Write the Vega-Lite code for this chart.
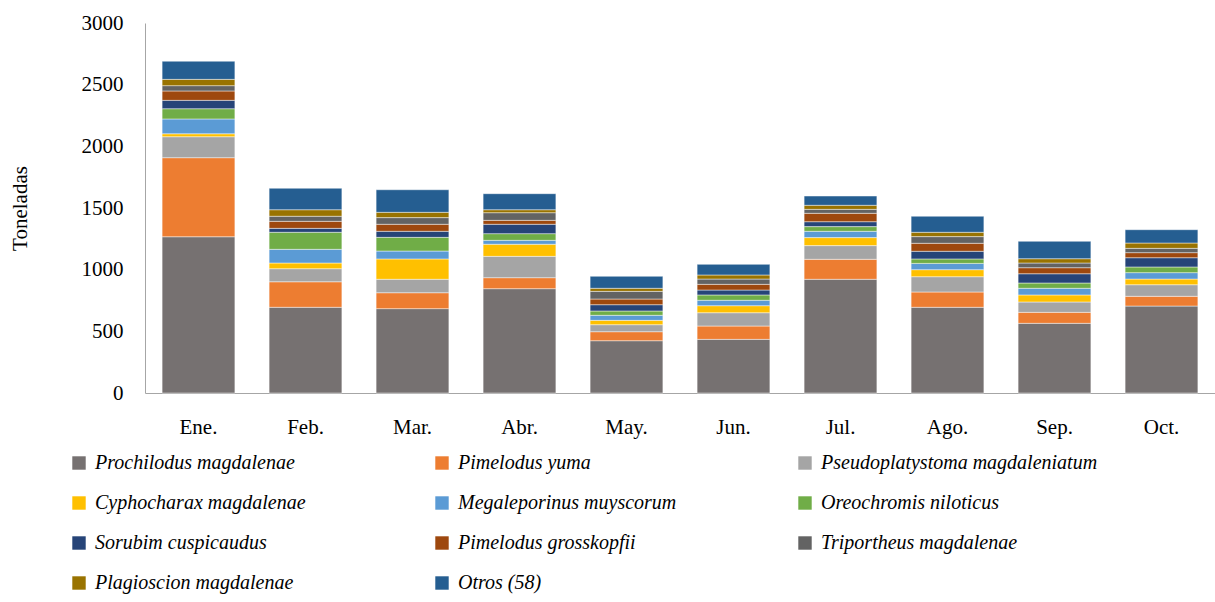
{
  "$schema": "https://vega.github.io/schema/vega-lite/v6.json",
  "autosize": {"type": "none"},
  "padding": {"left": 145, "top": 23, "right": 0, "bottom": 209},
  "width": 1070,
  "height": 370,
  "background": "#ffffff",
  "config": {
    "font": "Liberation Serif",
    "view": {"stroke": null},
    "axis": {"labelFont": "Liberation Serif", "titleFont": "Liberation Serif", "labelColor": "#000000", "titleColor": "#000000", "grid": false}
  },
  "datasets": {
    "orden": [
      {"especie": "Prochilodus magdalenae", "rango": 1},
      {"especie": "Pimelodus yuma", "rango": 2},
      {"especie": "Pseudoplatystoma magdaleniatum", "rango": 3},
      {"especie": "Cyphocharax magdalenae", "rango": 4},
      {"especie": "Megaleporinus muyscorum", "rango": 5},
      {"especie": "Oreochromis niloticus", "rango": 6},
      {"especie": "Sorubim cuspicaudus", "rango": 7},
      {"especie": "Pimelodus grosskopfii", "rango": 8},
      {"especie": "Triportheus magdalenae", "rango": 9},
      {"especie": "Plagioscion magdalenae", "rango": 10},
      {"especie": "Otros (58)", "rango": 11}
    ]
  },
  "data": {
    "values": [
      {"mes": "Ene.", "especie": "Prochilodus magdalenae", "t": 1267},
      {"mes": "Ene.", "especie": "Pimelodus yuma", "t": 641},
      {"mes": "Ene.", "especie": "Pseudoplatystoma magdaleniatum", "t": 170},
      {"mes": "Ene.", "especie": "Cyphocharax magdalenae", "t": 24},
      {"mes": "Ene.", "especie": "Megaleporinus muyscorum", "t": 120},
      {"mes": "Ene.", "especie": "Oreochromis niloticus", "t": 83},
      {"mes": "Ene.", "especie": "Sorubim cuspicaudus", "t": 68},
      {"mes": "Ene.", "especie": "Pimelodus grosskopfii", "t": 76},
      {"mes": "Ene.", "especie": "Triportheus magdalenae", "t": 43},
      {"mes": "Ene.", "especie": "Plagioscion magdalenae", "t": 51},
      {"mes": "Ene.", "especie": "Otros (58)", "t": 147},
      {"mes": "Feb.", "especie": "Prochilodus magdalenae", "t": 695},
      {"mes": "Feb.", "especie": "Pimelodus yuma", "t": 207},
      {"mes": "Feb.", "especie": "Pseudoplatystoma magdaleniatum", "t": 106},
      {"mes": "Feb.", "especie": "Cyphocharax magdalenae", "t": 46},
      {"mes": "Feb.", "especie": "Megaleporinus muyscorum", "t": 111},
      {"mes": "Feb.", "especie": "Oreochromis niloticus", "t": 138},
      {"mes": "Feb.", "especie": "Sorubim cuspicaudus", "t": 32},
      {"mes": "Feb.", "especie": "Pimelodus grosskopfii", "t": 57},
      {"mes": "Feb.", "especie": "Triportheus magdalenae", "t": 41},
      {"mes": "Feb.", "especie": "Plagioscion magdalenae", "t": 53},
      {"mes": "Feb.", "especie": "Otros (58)", "t": 174},
      {"mes": "Mar.", "especie": "Prochilodus magdalenae", "t": 684},
      {"mes": "Mar.", "especie": "Pimelodus yuma", "t": 129},
      {"mes": "Mar.", "especie": "Pseudoplatystoma magdaleniatum", "t": 109},
      {"mes": "Mar.", "especie": "Cyphocharax magdalenae", "t": 165},
      {"mes": "Mar.", "especie": "Megaleporinus muyscorum", "t": 64},
      {"mes": "Mar.", "especie": "Oreochromis niloticus", "t": 111},
      {"mes": "Mar.", "especie": "Sorubim cuspicaudus", "t": 49},
      {"mes": "Mar.", "especie": "Pimelodus grosskopfii", "t": 57},
      {"mes": "Mar.", "especie": "Triportheus magdalenae", "t": 54},
      {"mes": "Mar.", "especie": "Plagioscion magdalenae", "t": 43},
      {"mes": "Mar.", "especie": "Otros (58)", "t": 183},
      {"mes": "Abr.", "especie": "Prochilodus magdalenae", "t": 846},
      {"mes": "Abr.", "especie": "Pimelodus yuma", "t": 89},
      {"mes": "Abr.", "especie": "Pseudoplatystoma magdaleniatum", "t": 173},
      {"mes": "Abr.", "especie": "Cyphocharax magdalenae", "t": 98},
      {"mes": "Abr.", "especie": "Megaleporinus muyscorum", "t": 32},
      {"mes": "Abr.", "especie": "Oreochromis niloticus", "t": 54},
      {"mes": "Abr.", "especie": "Sorubim cuspicaudus", "t": 76},
      {"mes": "Abr.", "especie": "Pimelodus grosskopfii", "t": 32},
      {"mes": "Abr.", "especie": "Triportheus magdalenae", "t": 62},
      {"mes": "Abr.", "especie": "Plagioscion magdalenae", "t": 24},
      {"mes": "Abr.", "especie": "Otros (58)", "t": 130},
      {"mes": "May.", "especie": "Prochilodus magdalenae", "t": 424},
      {"mes": "May.", "especie": "Pimelodus yuma", "t": 73},
      {"mes": "May.", "especie": "Pseudoplatystoma magdaleniatum", "t": 57},
      {"mes": "May.", "especie": "Cyphocharax magdalenae", "t": 35},
      {"mes": "May.", "especie": "Megaleporinus muyscorum", "t": 41},
      {"mes": "May.", "especie": "Oreochromis niloticus", "t": 35},
      {"mes": "May.", "especie": "Sorubim cuspicaudus", "t": 51},
      {"mes": "May.", "especie": "Pimelodus grosskopfii", "t": 46},
      {"mes": "May.", "especie": "Triportheus magdalenae", "t": 62},
      {"mes": "May.", "especie": "Plagioscion magdalenae", "t": 25},
      {"mes": "May.", "especie": "Otros (58)", "t": 97},
      {"mes": "Jun.", "especie": "Prochilodus magdalenae", "t": 435},
      {"mes": "Jun.", "especie": "Pimelodus yuma", "t": 108},
      {"mes": "Jun.", "especie": "Pseudoplatystoma magdaleniatum", "t": 108},
      {"mes": "Jun.", "especie": "Cyphocharax magdalenae", "t": 57},
      {"mes": "Jun.", "especie": "Megaleporinus muyscorum", "t": 44},
      {"mes": "Jun.", "especie": "Oreochromis niloticus", "t": 43},
      {"mes": "Jun.", "especie": "Sorubim cuspicaudus", "t": 40},
      {"mes": "Jun.", "especie": "Pimelodus grosskopfii", "t": 46},
      {"mes": "Jun.", "especie": "Triportheus magdalenae", "t": 43},
      {"mes": "Jun.", "especie": "Plagioscion magdalenae", "t": 33},
      {"mes": "Jun.", "especie": "Otros (58)", "t": 86},
      {"mes": "Jul.", "especie": "Prochilodus magdalenae", "t": 922},
      {"mes": "Jul.", "especie": "Pimelodus yuma", "t": 162},
      {"mes": "Jul.", "especie": "Pseudoplatystoma magdaleniatum", "t": 111},
      {"mes": "Jul.", "especie": "Cyphocharax magdalenae", "t": 65},
      {"mes": "Jul.", "especie": "Megaleporinus muyscorum", "t": 51},
      {"mes": "Jul.", "especie": "Oreochromis niloticus", "t": 38},
      {"mes": "Jul.", "especie": "Sorubim cuspicaudus", "t": 40},
      {"mes": "Jul.", "especie": "Pimelodus grosskopfii", "t": 68},
      {"mes": "Jul.", "especie": "Triportheus magdalenae", "t": 32},
      {"mes": "Jul.", "especie": "Plagioscion magdalenae", "t": 33},
      {"mes": "Jul.", "especie": "Otros (58)", "t": 75},
      {"mes": "Ago.", "especie": "Prochilodus magdalenae", "t": 695},
      {"mes": "Ago.", "especie": "Pimelodus yuma", "t": 124},
      {"mes": "Ago.", "especie": "Pseudoplatystoma magdaleniatum", "t": 124},
      {"mes": "Ago.", "especie": "Cyphocharax magdalenae", "t": 57},
      {"mes": "Ago.", "especie": "Megaleporinus muyscorum", "t": 51},
      {"mes": "Ago.", "especie": "Oreochromis niloticus", "t": 36},
      {"mes": "Ago.", "especie": "Sorubim cuspicaudus", "t": 62},
      {"mes": "Ago.", "especie": "Pimelodus grosskopfii", "t": 65},
      {"mes": "Ago.", "especie": "Triportheus magdalenae", "t": 54},
      {"mes": "Ago.", "especie": "Plagioscion magdalenae", "t": 35},
      {"mes": "Ago.", "especie": "Otros (58)", "t": 130},
      {"mes": "Sep.", "especie": "Prochilodus magdalenae", "t": 565},
      {"mes": "Sep.", "especie": "Pimelodus yuma", "t": 89},
      {"mes": "Sep.", "especie": "Pseudoplatystoma magdaleniatum", "t": 84},
      {"mes": "Sep.", "especie": "Cyphocharax magdalenae", "t": 57},
      {"mes": "Sep.", "especie": "Megaleporinus muyscorum", "t": 54},
      {"mes": "Sep.", "especie": "Oreochromis niloticus", "t": 43},
      {"mes": "Sep.", "especie": "Sorubim cuspicaudus", "t": 75},
      {"mes": "Sep.", "especie": "Pimelodus grosskopfii", "t": 49},
      {"mes": "Sep.", "especie": "Triportheus magdalenae", "t": 38},
      {"mes": "Sep.", "especie": "Plagioscion magdalenae", "t": 35},
      {"mes": "Sep.", "especie": "Otros (58)", "t": 141},
      {"mes": "Oct.", "especie": "Prochilodus magdalenae", "t": 705},
      {"mes": "Oct.", "especie": "Pimelodus yuma", "t": 79},
      {"mes": "Oct.", "especie": "Pseudoplatystoma magdaleniatum", "t": 94},
      {"mes": "Oct.", "especie": "Cyphocharax magdalenae", "t": 46},
      {"mes": "Oct.", "especie": "Megaleporinus muyscorum", "t": 52},
      {"mes": "Oct.", "especie": "Oreochromis niloticus", "t": 46},
      {"mes": "Oct.", "especie": "Sorubim cuspicaudus", "t": 75},
      {"mes": "Oct.", "especie": "Pimelodus grosskopfii", "t": 41},
      {"mes": "Oct.", "especie": "Triportheus magdalenae", "t": 35},
      {"mes": "Oct.", "especie": "Plagioscion magdalenae", "t": 43},
      {"mes": "Oct.", "especie": "Otros (58)", "t": 108}
    ]
  },
  "transform": [
    {"lookup": "especie", "from": {"data": {"name": "orden"}, "key": "especie", "fields": ["rango"]}}
  ],
  "mark": {"type": "bar", "stroke": "#ffffff", "strokeOpacity": 0.45, "strokeWidth": 1},
  "encoding": {
    "x": {
      "field": "mes", "type": "nominal",
      "sort": ["Ene.", "Feb.", "Mar.", "Abr.", "May.", "Jun.", "Jul.", "Ago.", "Sep.", "Oct."],
      "scale": {"paddingInner": 0.32, "paddingOuter": 0.16},
      "axis": {"title": null, "labelAngle": 0, "labelFontSize": 21, "labelPadding": 23, "ticks": false, "domainColor": "#a6a6a6", "domainWidth": 1}
    },
    "y": {
      "field": "t", "type": "quantitative", "aggregate": "sum", "stack": "zero",
      "scale": {"domain": [0, 3000], "nice": false},
      "axis": {"title": "Toneladas", "values": [0, 500, 1000, 1500, 2000, 2500, 3000], "format": "d", "labelFontSize": 21, "titleFontSize": 21, "titleFontWeight": "normal", "labelPadding": 22, "titlePadding": 51, "ticks": false, "domainColor": "#a6a6a6", "domainWidth": 1}
    },
    "color": {
      "field": "especie", "type": "nominal",
      "sort": ["Prochilodus magdalenae", "Pimelodus yuma", "Pseudoplatystoma magdaleniatum", "Cyphocharax magdalenae", "Megaleporinus muyscorum", "Oreochromis niloticus", "Sorubim cuspicaudus", "Pimelodus grosskopfii", "Triportheus magdalenae", "Plagioscion magdalenae", "Otros (58)"],
      "scale": {
        "domain": ["Prochilodus magdalenae", "Pimelodus yuma", "Pseudoplatystoma magdaleniatum", "Cyphocharax magdalenae", "Megaleporinus muyscorum", "Oreochromis niloticus", "Sorubim cuspicaudus", "Pimelodus grosskopfii", "Triportheus magdalenae", "Plagioscion magdalenae", "Otros (58)"],
        "range": ["#767171", "#ED7D31", "#A5A5A5", "#FFC000", "#5B9BD5", "#70AD47", "#264478", "#9E480E", "#636363", "#997300", "#255E91"]
      },
      "legend": {
        "title": null, "orient": "none", "legendX": -76, "legendY": 430,
        "direction": "horizontal", "columns": 3, "gridAlign": "all",
        "symbolType": "square", "symbolSize": 180, "symbolStrokeWidth": 0, "symbolOpacity": 1,
        "labelFont": "Liberation Serif", "labelFontStyle": "italic", "labelFontSize": 20, "labelColor": "#000000",
        "labelLimit": 400, "labelOffset": 6, "columnPadding": 60, "rowPadding": 20
      }
    },
    "order": {"field": "rango", "type": "quantitative", "sort": "ascending"}
  }
}
